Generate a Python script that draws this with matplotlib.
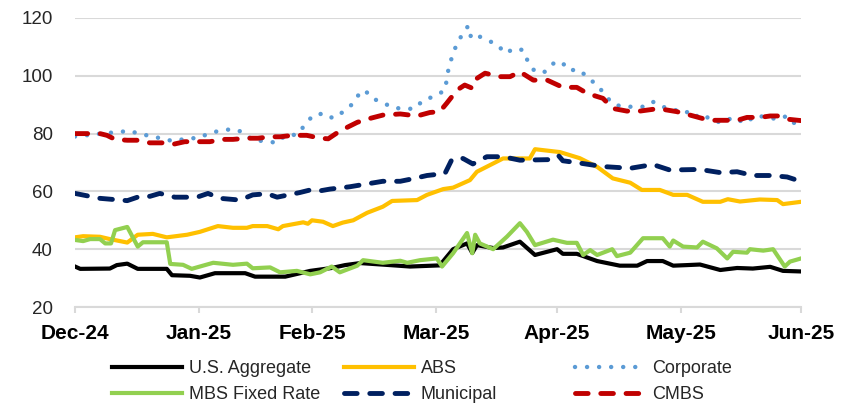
import numpy as np
import matplotlib.pyplot as plt
from matplotlib.lines import Line2D

plt.rcParams['font.family'] = ['Liberation Sans', 'DejaVu Sans']

# x = trading day index, 0 = start of Dec-24, 125 = start of Jun-25
aggX = [0, 0.9, 6.0, 7.2, 9.0, 10.8, 15.8, 16.7, 19.8, 21.5, 24.1, 29.3, 31.0, 36.2, 40.5, 44.2, 46.5,
        49.1, 54.2, 57.7, 62.8, 65.1, 67.5, 68.4, 69.2, 72.0, 73.7, 76.6, 79.2, 83.0, 84.0, 86.4, 89.9,
        93.8, 96.8, 98.5, 101.2, 103.0, 105.4, 107.6, 111.1, 114.0, 116.7, 119.7, 121.9, 125]
aggY = [34, 33.2, 33.3, 34.5, 35, 33.2, 33.2, 31, 30.8, 30.2, 31.7, 31.7, 30.5, 30.5, 32.5, 33.5, 34.5,
        35.2, 34.5, 34, 34.4, 40, 42, 38.7, 41.4, 40.4, 40.6, 42.6, 38, 40, 38.4, 38.4, 35.9,
        34.3, 34.3, 35.9, 35.9, 34.3, 34.5, 34.7, 32.8, 33.5, 33.3, 33.9, 32.5, 32.3]

absX = [0, 1.4, 4.3, 6.0, 9.0, 10.8, 13.4, 15.8, 19.3, 21.5, 24.6, 27.2, 29.6, 30.6, 33.1, 35.0, 35.8,
        39.3, 40.1, 40.8, 42.7, 44.4, 46.1, 47.9, 50.3, 53.0, 54.6, 58.9, 60.6, 63.4, 65.1, 68.0, 69.2,
        73.7, 78.3, 79.2, 83.5, 86.9, 89.9, 92.6, 95.6, 97.6, 100.7, 103.0, 105.4, 108.1, 111.1, 112.4,
        114.5, 117.9, 120.9, 121.9, 125]
absY = [44.1, 44.5, 44.3, 43.5, 42.3, 45, 45.3, 44.1, 45, 46, 48, 47.4, 47.4, 48, 48, 46.9, 48,
        49.3, 48.8, 50, 49.5, 48, 49.2, 50, 52.6, 54.7, 56.7, 57, 58.8, 60.8, 61.3, 63.9, 66.8,
        71.4, 71.4, 74.6, 73.6, 71.5, 68.5, 64.5, 63, 60.5, 60.5, 58.8, 58.8, 56.4, 56.4, 57.3,
        56.5, 57.2, 57, 55.6, 56.4]

corpX = [0, 5.5, 7.4, 9.5, 11.2, 13.3, 15.2, 17.2, 19.3, 21.2, 23.2, 25.0, 27.2, 28.9, 30.6, 32.7, 34.8,
         36.2, 38.2, 39.6, 41.0, 43.0, 44.4, 46.0, 47.7, 48.7, 49.9, 51.1, 53.0, 54.6, 56.5, 58.5, 59.9,
         62.0, 63.7, 64.4, 65.8, 67.7, 68.2, 69.0, 70.9, 72.8, 74.0, 75.8, 77.1, 78.0, 79.2, 80.9, 82.3,
         83.8, 84.9, 86.9, 88.3, 89.9, 92.5, 94.2, 97.8, 99.5, 101.2, 103.0, 105.0, 106.4, 108.0, 109.7,
         111.4, 113.3, 115.4, 117.1, 119.1, 120.9, 122.6, 125]
corpY = [79, 80.2, 80.5, 81, 79.7, 79.2, 78, 77.4, 78.4, 78.4, 80.2, 81, 81.6, 80.5, 77.7, 77.4, 76.8,
         79.4, 79.6, 83, 86.4, 87, 85.3, 87.3, 90.1, 93.1, 95.1, 92.2, 90.8, 89, 88.6, 88.6, 91.5,
         93, 95, 103.5, 111.5, 117.3, 113.2, 114.2, 112.4, 110.7, 107.8, 109.5, 108.9, 104.9, 101.4, 101.4, 104.2,
         104.9, 102, 102, 99.3, 96.8, 90.4, 89.3, 89.3, 91, 89.3, 88.1, 88.1, 85.6, 86.8, 84.5,
         83.8, 85.6, 83.6, 86.1, 85.8, 84.9, 86.1, 81.3]

mbsX = [0, 1.4, 2.6, 4.3, 5.2, 6.2, 6.9, 9.0, 10.8, 11.7, 15.8, 16.4, 18.6, 20.1, 21.5, 23.8, 27.2,
        29.6, 30.6, 33.6, 35.3, 38.2, 40.5, 42.2, 44.2, 45.6, 48.6, 49.6, 53.0, 56.0, 57.2, 59.4, 62.3,
        63.2, 65.1, 67.5, 68.4, 68.9, 69.7, 72.0, 74.4, 76.6, 77.8, 79.2, 82.3, 84.7, 86.4, 87.5, 88.7,
        89.9, 92.5, 93.3, 95.6, 97.8, 101.2, 102.4, 103.0, 104.7, 107.1, 108.1, 110.5, 112.3, 113.3,
        115.7, 116.2, 118.5, 120.2, 122.2, 123.1, 125]
mbsY = [43.2, 42.8, 43.5, 43.5, 42, 42, 46.6, 47.7, 40.9, 42.4, 42.4, 34.9, 34.6, 33.2, 34, 35.3, 34.6,
        35, 33.4, 33.7, 32, 32.5, 31.3, 32, 34, 32, 34.3, 36.2, 35.3, 36, 35.3, 36.2, 36.8,
        34, 38.6, 45.6, 38.6, 45, 42, 40, 44.4, 49, 46, 41.4, 43.3, 42.2, 42.2, 38, 39.7,
        38, 40, 37.6, 38.8, 43.8, 43.8, 40.9, 43, 40.9, 40.6, 42.6, 40.3, 36.8, 39.1,
        38.8, 40, 39.5, 40, 34, 35.7, 36.8]

muniX = [0, 4.3, 9.0, 11.2, 12.9, 14.6, 17.2, 21.0, 22.9, 25.0, 28.4, 30.6, 33.1, 34.8, 38.7, 40.5, 42.2,
         43.9, 47.3, 50.3, 53.0, 56.0, 58.2, 60.6, 63.7, 64.9, 66.8, 68.5, 70.9, 73.7, 76.6, 81.8, 83.2,
         84.0, 86.9, 90.9, 95.6, 99.5, 102.4, 107.6, 111.1, 114.0, 116.7, 119.7, 122.6, 124.3, 125]
muniY = [59.3, 57.6, 56.8, 58.3, 58.3, 59.3, 58, 58, 59.3, 57.6, 57, 58.8, 59.2, 58, 59.6, 60.5, 60.2,
         60.8, 61.6, 62.6, 63.5, 63.5, 64.4, 65.5, 66.2, 71.1, 71.4, 69.5, 72, 72, 70.8, 71, 72.5,
         70.6, 69.8, 68.6, 68, 69.3, 67.4, 67.6, 66.5, 66.8, 65.5, 65.5, 65, 63.9, 62.2]

cmbsX = [0, 4.3, 5.5, 6.9, 9.0, 10.7, 12.9, 15.2, 16.9, 18.9, 23.2, 25.5, 27.2, 29.6, 31.5, 33.6, 35.3,
         37.5, 39.9, 42.2, 43.6, 45.6, 48.6, 50.3, 53.0, 56.0, 58.9, 61.1, 62.8, 64.0, 65.8, 67.1, 68.4,
         69.2, 70.6, 73.2, 74.9, 76.6, 78.9, 81.3, 84.0, 86.4, 88.2, 90.9, 92.6, 95.0, 97.3, 99.5, 101.2,
         103.6, 105.9, 108.1, 109.8, 114.0, 115.7, 117.9, 119.7, 121.0, 122.6, 125]
cmbsY = [80, 80, 79.4, 78, 77.7, 77.7, 76.8, 76.8, 76.3, 77.2, 77.2, 78, 78, 78.4, 78.4, 78.9, 78.9,
         79.4, 79.4, 78.4, 78.2, 80.9, 83.9, 85, 86.4, 86.8, 86.1, 87.3, 87.6, 90.5, 95.1, 96.8, 95.7,
         99.1, 100.9, 99.7, 99.7, 101.4, 98.5, 98.5, 96, 96, 93.9, 92.2, 88.7, 87.8, 87.8, 88.4, 88.4,
         87.6, 86.4, 85.2, 84.6, 84.6, 85.6, 85.6, 86.1, 86.1, 85, 84.5]

monthTicks = [0, 21.3, 40.8, 62.2, 83.0, 104.4, 125]
monthLabels = ['Dec-24', 'Jan-25', 'Feb-25', 'Mar-25', 'Apr-25', 'May-25', 'Jun-25']

dotted = (0, (0.01, 2.7))
dashed = (0, (2.6, 2.6))

fig = plt.figure(figsize=(8.52, 4.04), dpi=100)
ax = fig.add_axes([75/852, 1-307/404, 726/852, 289/404])

l1, = ax.plot(aggX, aggY, color='black', lw=3, solid_joinstyle='round', label='U.S. Aggregate')
l2, = ax.plot(absX, absY, color='#FFC000', lw=3, solid_joinstyle='round', label='ABS')
l3, = ax.plot(corpX, corpY, color='#5B9BD5', lw=3.2, ls=dotted, dash_capstyle='round', label='Corporate')
l4, = ax.plot(mbsX, mbsY, color='#92D050', lw=3, solid_joinstyle='round', label='MBS Fixed Rate')
l5, = ax.plot(muniX, muniY, color='#002060', lw=3.5, ls=dashed, dash_capstyle='round', label='Municipal')
l6, = ax.plot(cmbsX, cmbsY, color='#C00000', lw=3.5, ls=dashed, dash_capstyle='round', label='CMBS')

ax.set_xlim(0, 125)
ax.set_ylim(20, 120)
ax.set_yticks(np.arange(20, 121, 20))
ax.grid(axis='y', color='#D9D9D9', lw=1.5)
ax.set_axisbelow(True)
for s in ['top', 'right', 'left']:
    ax.spines[s].set_visible(False)
ax.spines['bottom'].set_color('#D9D9D9')
ax.spines['bottom'].set_linewidth(1.5)

ax.set_xticks(monthTicks)
ax.set_xticklabels(monthLabels, fontweight='bold')
ax.tick_params(axis='x', length=4.5, width=1.5, color='#D9D9D9', pad=8, labelsize=15, labelcolor='black')
ax.tick_params(axis='y', length=0, pad=16, labelsize=13.5, labelcolor='#262626')

# three legend columns, equal width like excel
cols = [(112, [l1, l4]), (344, [l2, l5]), (575, [l3, l6])]
for xpx, hs in cols:
    fig.legend(handles=hs, loc='upper left', bbox_to_anchor=(xpx/852, 1-360/404),
               frameon=False, fontsize=13, handlelength=3.9, handletextpad=0.35,
               borderpad=0, borderaxespad=0, labelspacing=0.5, labelcolor='#262626')

plt.savefig('out.png', dpi=100)
